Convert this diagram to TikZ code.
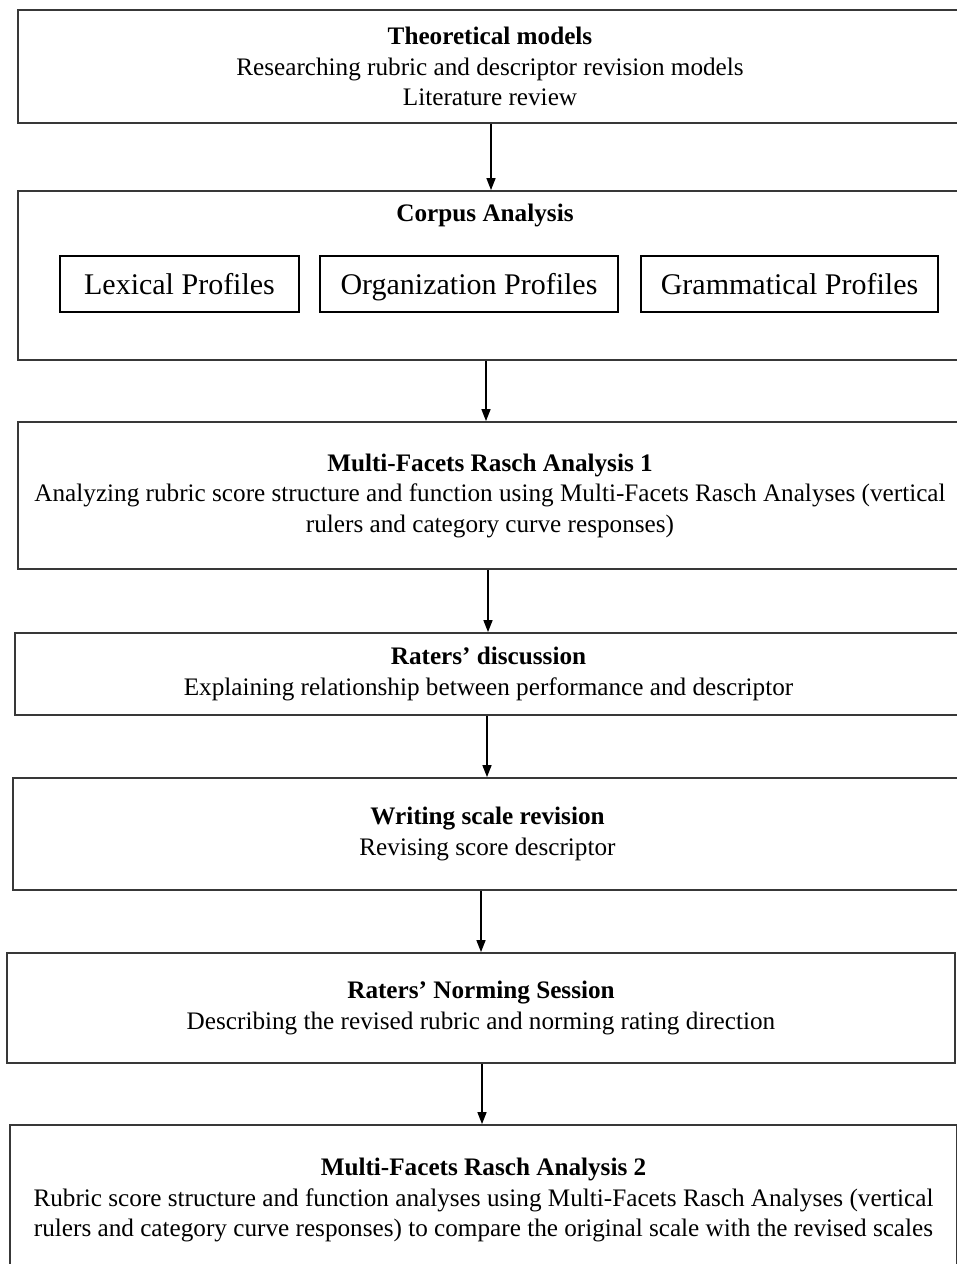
\documentclass[tikz,border=0pt]{standalone}
\usepackage{fontspec}
\setmainfont{Liberation Serif}
\usetikzlibrary{arrows.meta}
\begin{document}
\begin{tikzpicture}[x=1pt,y=-1pt,
  outer/.style={draw=black!78, line width=1.8pt, inner sep=0pt, align=center,
    font=\fontsize{25.2}{30.5}\selectfont},
  inner/.style={draw=black, line width=1.8pt, inner sep=0pt, align=center,
    text height=23pt, text depth=3pt, font=\fontsize{30}{34}\selectfont},
  ttl/.style={font=\fontsize{25.2}{30.5}\selectfont\bfseries, inner sep=0pt},
  arr/.style={draw=black, line width=1.4pt, -{Triangle[length=12pt,width=9pt]}}]
\useasboundingbox (0,0) rectangle (957,1264);
\clip (0,0) rectangle (957,1264);
\fill[white] (0,0) rectangle (957,1264);

\node[outer, minimum width=944pt, minimum height=113pt] (b1) at (490,66.5)
  {\textbf{Theoretical models}\\Researching rubric and descriptor revision models\\Literature review};

\node[outer, minimum width=944pt, minimum height=169pt] (b2) at (490,275.5) {};
\node[ttl] (t2) at (485,215) {Corpus Analysis};
\node[inner, minimum width=239pt, minimum height=56pt] (p1) at (179.5,284) {Lexical Profiles};
\node[inner, minimum width=298pt, minimum height=56pt] (p2) at (469,284) {Organization Profiles};
\node[inner, minimum width=297pt, minimum height=56pt] (p3) at (789.5,284) {Grammatical Profiles};

\node[outer, minimum width=944pt, minimum height=147pt] (b3) at (490,495.5)
  {\textbf{Multi-Facets Rasch Analysis 1}\\Analyzing rubric score structure and function using Multi-Facets Rasch Analyses (vertical\\rulers and category curve responses)};

\node[outer, minimum width=947pt, minimum height=82pt] (b4) at (488.5,674)
  {\textbf{Raters’ discussion}\\Explaining relationship between performance and descriptor};

\node[outer, minimum width=949pt, minimum height=112pt] (b5) at (487.5,834)
  {\textbf{Writing scale revision}\\Revising score descriptor};

\node[outer, minimum width=948pt, minimum height=110pt] (b6) at (481,1008)
  {\textbf{Raters’ Norming Session}\\Describing the revised rubric and norming rating direction};

\node[outer, minimum width=947pt, minimum height=150pt] (b7) at (483.5,1200)
  {\textbf{Multi-Facets Rasch Analysis 2}\\Rubric score structure and function analyses using Multi-Facets Rasch Analyses (vertical\\rulers and category curve responses) to compare the original scale with the revised scales};

\draw[arr] ([xshift=1pt]b1.south) -- ([xshift=1pt]b1.south |- b2.north);
\draw[arr] ([xshift=-4pt]b2.south) -- ([xshift=-4pt]b2.south |- b3.north);
\draw[arr] ([xshift=-2pt]b3.south) -- ([xshift=-2pt]b3.south |- b4.north);
\draw[arr] ([xshift=-1.5pt]b4.south) -- ([xshift=-1.5pt]b4.south |- b5.north);
\draw[arr] ([xshift=-6.5pt]b5.south) -- ([xshift=-6.5pt]b5.south |- b6.north);
\draw[arr] ([xshift=1pt]b6.south) -- ([xshift=1pt]b6.south |- b7.north);
\end{tikzpicture}
\end{document}
